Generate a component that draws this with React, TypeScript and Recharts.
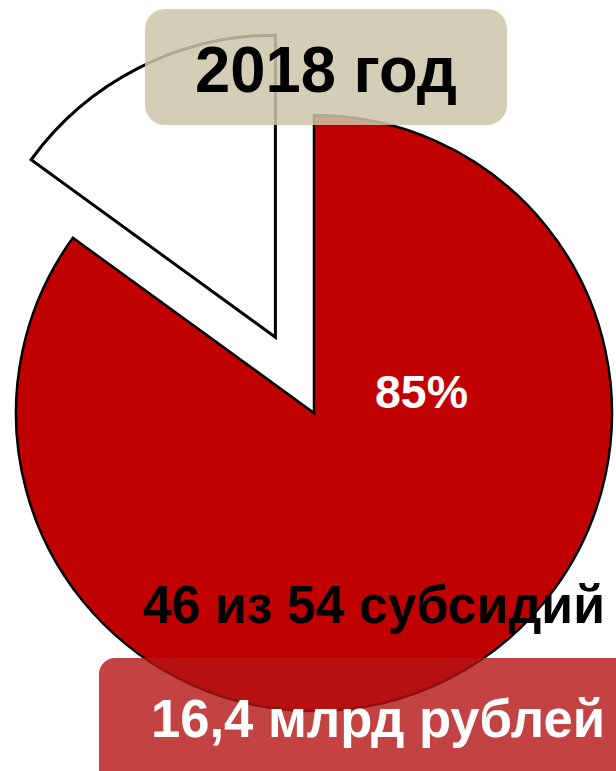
import React from 'react';
import { PieChart, Pie, Cell } from 'recharts';

// share of subsidies (percent)
const sliceNames = ['Выплачено', 'Остаток'];
const sliceValues = [85, 15];
const sliceColors = ['#C00000', '#FFFFFF'];

const yearLabel = '2018 год';
const percentLabel = '85%';
const countLabel = '46 из 54 субсидий';
const amountLabel = '16,4 млрд рублей';

const W = 616;
const H = 771;
const CX = 314;
const CY = 413;
const R = 298;
const EXPLODE = 85;

const pieData = sliceNames.map((name, i) => ({ name, value: sliceValues[i] }));

// white slice is pulled out along its bisector
const total = sliceValues.reduce((a, b) => a + b, 0);
const whiteMid = 90 - (360 * sliceValues[0]) / total - (360 * sliceValues[1]) / total / 2;
const rad = (whiteMid * Math.PI) / 180;
const offX = EXPLODE * Math.cos(rad);
const offY = -EXPLODE * Math.sin(rad);

const font = '"Liberation Sans", Arial, sans-serif';

const App: React.FC = () => {
  return (
    <div style={{ position: 'relative', width: W, height: H, overflow: 'hidden', fontFamily: font }}>
      <style>{`body{margin:0}`}</style>
      <div style={{ position: 'absolute', left: 0, top: 0 }}>
        <PieChart width={W} height={H} margin={{ top: 0, right: 0, bottom: 0, left: 0 }}>
          <Pie
            data={pieData}
            dataKey="value"
            cx={CX}
            cy={CY}
            outerRadius={R}
            startAngle={90}
            endAngle={-270}
            stroke="#000"
            strokeWidth={2.5}
            isAnimationActive={false}
          >
            {pieData.map((d, i) => (
              <Cell key={d.name} fill={i === 0 ? sliceColors[0] : 'none'} stroke={i === 0 ? '#000' : 'none'} />
            ))}
          </Pie>
          <Pie
            data={pieData}
            dataKey="value"
            cx={CX + offX}
            cy={CY + offY}
            outerRadius={R + 4}
            startAngle={90}
            endAngle={-270}
            stroke="#000"
            strokeWidth={3}
            isAnimationActive={false}
          >
            {pieData.map((d, i) => (
              <Cell key={d.name} fill={i === 1 ? sliceColors[1] : 'none'} stroke={i === 1 ? '#000' : 'none'} />
            ))}
          </Pie>
        </PieChart>
      </div>

      <div
        style={{
          position: 'absolute',
          left: 145,
          top: 9,
          width: 362,
          height: 116,
          borderRadius: 20,
          background: 'rgba(205,198,170,0.85)',
        }}
      />
      <div
        style={{
          position: 'absolute',
          left: 99,
          top: 658,
          width: 560,
          height: 150,
          borderRadius: 16,
          background: 'rgba(180,20,20,0.8)',
        }}
      />

      <svg width={W} height={H} style={{ position: 'absolute', left: 0, top: 0 }}>
        <text x={195} y={92} textLength={262} lengthAdjust="spacingAndGlyphs" fontFamily={font} fontWeight="bold" fontSize={64} fill="#000">
          {yearLabel}
        </text>
        <text x={375} y={408} textLength={93} lengthAdjust="spacingAndGlyphs" fontFamily={font} fontWeight="bold" fontSize={46} fill="#fff">
          {percentLabel}
        </text>
        <text x={143} y={623} textLength={462} lengthAdjust="spacingAndGlyphs" fontFamily={font} fontWeight="bold" fontSize={53} fill="#000">
          {countLabel}
        </text>
        <text x={151} y={737} textLength={454} lengthAdjust="spacingAndGlyphs" fontFamily={font} fontWeight="bold" fontSize={53} fill="#fff">
          {amountLabel}
        </text>
      </svg>
    </div>
  );
};

export default App;
